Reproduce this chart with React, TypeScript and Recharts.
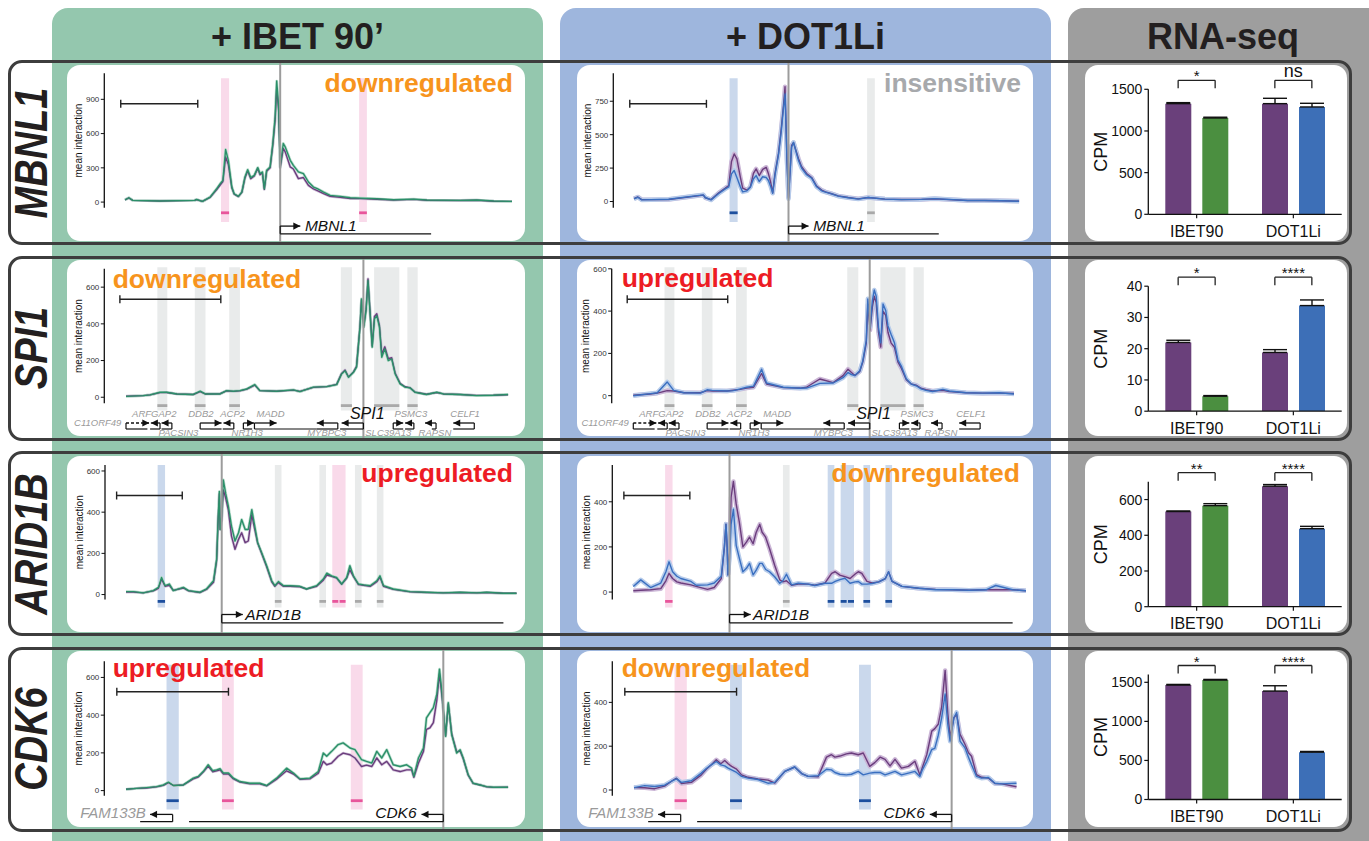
import React from 'react';
import {
  Bar, BarChart, Cell, ComposedChart, ErrorBar, Line,
  ReferenceArea, ReferenceDot, ReferenceLine, XAxis, YAxis,
} from 'recharts';

const FONT = '"Liberation Sans", Arial, Helvetica, sans-serif';

// Capture traces: position along the locus window (0..100) and mean interaction
const MBNL1_POS = [0, 1, 2, 9, 18, 18.5, 20, 22, 23.7, 24.6, 25.3, 26, 26.7, 27.6, 28.2, 29.3, 30.2, 31, 31.7, 32.5, 33.4, 34.3, 34.9, 35.5, 36, 36.6, 37.5, 38.2, 38.8, 39.2, 39.7, 40.1, 40.9, 41.4, 42.7, 43.5, 44.8, 46.1, 47.4, 48.7, 49.7, 51.3, 53, 55.6, 58.2, 60.8, 65.1, 69.4, 74.6, 78, 86.6, 90.9, 95.3, 100];
const MBNL1_IBET_CTRL = [20, 36, 15, 10, 15, 22, 6, 42, 110, 150, 180, 395, 330, 125, 70, 48, 85, 212, 275, 205, 228, 295, 240, 255, 112, 270, 300, 500, 720, 1000, 800, 300, 470, 440, 308, 290, 205, 215, 146, 115, 100, 75, 50, 42, 32, 30, 25, 18, 24, 16, 14, 16, 8, 6];
const MBNL1_IBET = [20, 38, 15, 10, 15, 23, 6, 44, 117, 161, 190, 460, 366, 132, 73, 50, 88, 220, 284, 214, 234, 302, 249, 264, 117, 278, 308, 513, 747, 1060, 835, 308, 513, 483, 366, 322, 264, 249, 176, 132, 117, 88, 59, 50, 38, 35, 29, 20, 26, 18, 15, 18, 9, 6];
const MBNL1_DOT_CTRL = [22, 34, 14, 15, 48, 28, 14, 65, 100, 120, 300, 356, 319, 182, 100, 85, 110, 210, 244, 194, 240, 256, 207, 140, 65, 210, 360, 540, 720, 859, 320, 30, 420, 440, 320, 260, 210, 180, 115, 85, 72, 58, 42, 30, 20, 30, 18, 15, 16, 20, 8, 8, 6, 3];
const MBNL1_DOT = [20, 32, 12, 17, 50, 30, 12, 60, 95, 110, 207, 232, 180, 110, 72, 80, 107, 170, 194, 150, 185, 180, 157, 110, 62, 200, 350, 520, 700, 804, 306, 20, 406, 443, 306, 250, 200, 175, 110, 80, 70, 57, 40, 28, 18, 30, 18, 14, 16, 22, 8, 8, 6, 2];

const SPI1_POS = [0, 4.5, 6.3, 8.9, 10.6, 13.3, 17.6, 19.4, 20.7, 24.6, 26.3, 28.1, 29.8, 31.6, 33.7, 35, 39.4, 43.8, 45.5, 49, 52.5, 55.1, 56.4, 57.3, 58.2, 59.5, 60.3, 61.2, 61.6, 62.2, 62.8, 63.3, 63.8, 64.4, 65, 65.6, 66.3, 66.9, 67.7, 68.6, 69.5, 70.4, 71.7, 73, 74.3, 75.6, 76.9, 78.6, 81.3, 83, 87.4, 91.7, 96.1, 100];
const SPI1_IBET_CTRL = [6, 9, 13, 25, 26, 18, 15, 31, 18, 19, 35, 32, 35, 44, 66, 36, 33, 39, 32, 54, 58, 70, 130, 148, 110, 138, 168, 385, 530, 390, 480, 645, 480, 280, 440, 455, 390, 236, 275, 210, 215, 132, 76, 57, 52, 28, 23, 16, 26, 18, 15, 10, 11, 14];
const SPI1_IBET = [5, 9, 13, 27, 27, 18, 15, 33, 18, 18, 36, 33, 36, 45, 69, 36, 33, 40, 31, 55, 58, 69, 127, 145, 109, 136, 164, 382, 536, 382, 473, 636, 473, 273, 427, 445, 382, 218, 264, 200, 209, 127, 73, 55, 51, 27, 22, 15, 27, 18, 15, 9, 11, 15];
const SPI1_DOT_CTRL = [2, 8, 12, 24, 22, 14, 14, 24, 22, 22, 26, 30, 36, 40, 105, 55, 38, 36, 40, 79, 62, 95, 125, 110, 95, 115, 160, 250, 430, 310, 420, 470, 440, 300, 230, 400, 380, 300, 250, 229, 160, 130, 75, 55, 50, 35, 28, 22, 25, 20, 14, 12, 12, 10];
const SPI1_DOT = [0, 10, 14, 65, 25, 14, 12, 28, 25, 22, 24, 32, 40, 45, 125, 60, 40, 35, 36, 58, 60, 85, 110, 100, 95, 118, 166, 261, 458, 324, 450, 500, 470, 324, 250, 434, 403, 330, 290, 250, 170, 140, 80, 55, 47, 32, 25, 20, 30, 22, 14, 12, 14, 8];

const ARID1B_POS = [0, 1.9, 4.4, 7, 8.3, 9.1, 10, 11.1, 12.1, 14.7, 16, 18.9, 20.6, 22.4, 23.2, 23.6, 23.9, 24.1, 24.5, 24.9, 25.5, 26.2, 27, 27.9, 28.8, 29.6, 30.5, 31.3, 32.2, 32.8, 33.7, 34.7, 36, 37.3, 38.1, 39, 40.3, 42, 44.5, 46.2, 48.8, 50.5, 51.4, 52.6, 53.9, 55.2, 56.5, 57.3, 58.2, 59.5, 60.8, 62.5, 64.2, 65, 65.9, 68.4, 72.7, 77, 81.2, 85.5, 89.8, 92.3, 96.6, 100];
const ARID1B_IBET_CTRL = [12, 12, 8, 18, 30, 75, 40, 45, 20, 32, 18, 10, 25, 60, 165, 370, 490, 316, 360, 508, 470, 410, 284, 220, 268, 300, 252, 260, 388, 330, 250, 200, 135, 62, 40, 58, 40, 40, 38, 27, 40, 70, 95, 88, 80, 50, 80, 120, 88, 48, 45, 40, 62, 85, 40, 25, 13, 10, 8, 10, 8, 10, 6, 6];
const ARID1B_IBET = [14, 14, 8, 19, 35, 83, 43, 51, 19, 35, 19, 11, 27, 67, 172, 380, 500, 316, 380, 557, 492, 428, 332, 260, 300, 364, 316, 316, 412, 348, 252, 204, 140, 67, 43, 63, 43, 43, 40, 27, 43, 75, 104, 91, 83, 51, 83, 140, 91, 51, 47, 43, 67, 91, 43, 27, 14, 11, 8, 11, 8, 11, 6, 6];
const ARID1B_DOT_CTRL = [6, 8, 10, 15, 50, 83, 60, 45, 40, 32, 25, 12, 20, 60, 200, 301, 200, 76, 180, 420, 490, 390, 310, 200, 221, 243, 214, 265, 300, 265, 243, 192, 119, 54, 45, 50, 30, 35, 35, 30, 40, 83, 90, 75, 68, 60, 80, 90, 83, 47, 40, 45, 60, 90, 47, 25, 17, 12, 10, 8, 10, 10, 10, 6];
const ARID1B_DOT = [25, 54, 20, 40, 90, 134, 90, 70, 60, 47, 30, 32, 40, 70, 200, 301, 200, 76, 150, 300, 367, 207, 150, 90, 105, 127, 76, 97, 127, 127, 100, 90, 68, 39, 50, 79, 32, 39, 35, 29, 39, 39, 47, 55, 61, 39, 45, 47, 35, 35, 38, 45, 60, 90, 47, 25, 17, 10, 10, 8, 10, 29, 10, 6];

const CDK6_POS = [0, 2.8, 5.4, 8, 9.8, 11.1, 12.4, 15, 17.6, 18.9, 20.2, 21.5, 22.7, 23.7, 24.6, 25.5, 26.8, 28.1, 29.8, 32.4, 35, 36.8, 39.4, 42, 43.8, 45.5, 48.1, 50.3, 51.6, 52.5, 53.8, 55.5, 56.8, 58.6, 59.9, 61.6, 62.9, 64.3, 65.6, 66.9, 68.2, 69.9, 71.7, 73.4, 74.7, 75.3, 76.5, 77.8, 78.6, 79.5, 80.4, 81.3, 82, 82.6, 83.6, 84.3, 85.2, 86.5, 87.4, 88.2, 89.5, 90.8, 92.6, 94.3, 96.1, 100];
const CDK6_IBET_CTRL = [7, 12, 14, 20, 28, 42, 27, 30, 62, 72, 98, 130, 100, 105, 110, 88, 88, 62, 45, 36, 36, 25, 60, 105, 88, 60, 62, 92, 155, 137, 146, 182, 199, 190, 173, 128, 135, 128, 173, 137, 155, 110, 101, 110, 110, 70, 146, 208, 324, 333, 360, 480, 620, 510, 290, 460, 300, 205, 210, 170, 82, 38, 30, 20, 17, 18];
const CDK6_IBET = [7, 12, 16, 21, 30, 45, 27, 30, 66, 75, 101, 137, 105, 110, 116, 93, 93, 66, 48, 39, 39, 27, 66, 119, 93, 62, 66, 101, 199, 182, 208, 244, 253, 226, 217, 164, 155, 146, 208, 173, 217, 137, 128, 137, 119, 75, 173, 226, 386, 413, 440, 511, 644, 529, 288, 466, 297, 199, 217, 173, 84, 39, 30, 21, 18, 18];
const CDK6_DOT_CTRL = [11, 10, 6, 18, 40, 54, 30, 35, 69, 95, 115, 138, 120, 135, 120, 108, 95, 69, 58, 50, 45, 32, 85, 105, 75, 62, 60, 150, 161, 150, 155, 165, 169, 161, 169, 108, 125, 150, 140, 110, 140, 100, 108, 131, 69, 100, 161, 269, 280, 300, 380, 546, 350, 240, 330, 346, 254, 208, 170, 154, 70, 58, 55, 30, 28, 15];
const CDK6_DOT = [11, 20, 16, 22, 40, 51, 35, 42, 77, 98, 115, 130, 115, 110, 100, 92, 80, 62, 54, 48, 31, 35, 85, 105, 75, 62, 65, 95, 92, 80, 72, 69, 72, 85, 69, 77, 80, 80, 69, 77, 85, 69, 77, 85, 62, 90, 131, 185, 190, 250, 330, 438, 300, 223, 330, 354, 223, 192, 150, 115, 62, 54, 57, 31, 28, 31];

// highlighted fragments: extent and kind in the IBET / DOT1Li panel
const MBNL1_BANDS = [
  { x1: 24.8, x2: 26.9, c: ['pink', 'blue'], n: 1 },
  { x1: 60.5, x2: 62.5, c: ['pink', 'gray'], n: 1 },
];
const SPI1_BANDS = [
  { x1: 8.2, x2: 10.8, c: ['gray', 'gray'], n: 1 },
  { x1: 18, x2: 20.8, c: ['gray', 'gray'], n: 1 },
  { x1: 27, x2: 29.8, c: ['gray', 'gray'], n: 1 },
  { x1: 56.2, x2: 59.1, c: ['gray', 'gray'], n: 1 },
  { x1: 64.9, x2: 71.5, c: ['gray', 'gray'], n: 1 },
  { x1: 73.6, x2: 76.3, c: ['gray', 'gray'], n: 1 },
];
const ARID1B_BANDS = [
  { x1: 8.1, x2: 10, c: ['blue', 'pink'], n: 1 },
  { x1: 38.1, x2: 39.8, c: ['gray', 'gray'], n: 1 },
  { x1: 49.5, x2: 51.2, c: ['gray', 'blue'], n: 1 },
  { x1: 52.8, x2: 56.2, c: ['pink', 'blue'], n: 2 },
  { x1: 58.6, x2: 60.3, c: ['gray', 'blue'], n: 1 },
  { x1: 64.2, x2: 65.9, c: ['gray', 'blue'], n: 1 },
];
const CDK6_BANDS = [
  { x1: 10.6, x2: 13.8, c: ['blue', 'pink'], n: 1 },
  { x1: 25.1, x2: 28.2, c: ['pink', 'blue'], n: 1 },
  { x1: 58.8, x2: 61.9, c: ['pink', 'blue'], n: 1 },
];

// gene models under the traces
const MBNL1_GENES = [{ name: 'MBNL1', tss: 40.1, tip: 45.3, body: [40.1, 79.1], label: 46.5, anchor: 'start', ty: -22.7, main: true }];
const SPI1_GENES = [
  { name: 'C11ORF49', tss: 0, tip: 6.1, body: [0, 5.6], label: -1.2, anchor: 'end', ty: -22.3, dashed: true },
  { name: 'ARFGAP2', tss: 8.9, tip: 6.5, body: [6.3, 8.9], label: 7.4, anchor: 'middle', ty: -13.3 },
  { name: 'PACSIN3', tss: 12, tip: 9.3, body: [9.3, 12], label: 13.7, anchor: 'middle', ty: -32.5 },
  { name: 'DDB2', tss: 19.4, tip: 25, body: [19.4, 25], label: 19.6, anchor: 'middle', ty: -13.3 },
  { name: 'ACP2', tss: 28.2, tip: 25.5, body: [25.3, 28.2], label: 27.9, anchor: 'middle', ty: -13.3 },
  { name: 'NR1H3', tss: 30.7, tip: 33.5, body: [30.7, 33], label: 31.7, anchor: 'middle', ty: -32.5 },
  { name: 'MADD', tss: 33.6, tip: 39.4, body: [33.6, 49.9], label: 37.8, anchor: 'middle', ty: -13.3 },
  { name: 'MYBPC3', tss: 55.4, tip: 49.9, body: [49.9, 55.4], label: 52.5, anchor: 'middle', ty: -32.5 },
  { name: 'SPI1', tss: 62.1, tip: 56.4, body: [56, 62.1], label: 63.1, anchor: 'middle', ty: -15.7, main: true },
  { name: 'SLC39A13', tss: 69.9, tip: 72.5, body: [69.9, 72.5], label: 68.6, anchor: 'middle', ty: -32.5 },
  { name: 'PSMC3', tss: 75.3, tip: 73, body: [73, 75.3], label: 74.5, anchor: 'middle', ty: -13.3 },
  { name: 'RAPSN', tss: 81.1, tip: 78.2, body: [80, 81.1], label: 80.8, anchor: 'middle', ty: -32.5 },
  { name: 'CELF1', tss: 91.1, tip: 85.6, body: [85.6, 91.1], label: 88.7, anchor: 'middle', ty: -13.3 },
];
const ARID1B_GENES = [{ name: 'ARID1B', tss: 24.5, tip: 29.9, body: [24.5, 96.6], label: 30.5, anchor: 'start', ty: -20, main: true }];
const CDK6_GENES = [
  { name: 'FAM133B', tss: 12.2, tip: 6.3, body: [3.7, 12.2], label: 5.2, anchor: 'end', ty: -22.7, big: true },
  { name: 'CDK6', tss: 83, tip: 77.3, body: [16.5, 83], label: 76, anchor: 'end', ty: -22.7, main: true },
];

// RNA-seq: CPM for [control, IBET90, control, DOT1Li] and upper error
const RNA_GROUPS = ['IBET90', 'DOT1Li'];
const MBNL1_CPM = [1328, 1156, 1328, 1288];
const MBNL1_SEM = [12, 9, 64, 44];
const SPI1_CPM = [22.0, 4.8, 18.8, 33.8];
const SPI1_SEM = [0.7, 0.2, 0.9, 1.8];
const ARID1B_CPM = [533, 566, 675, 437];
const ARID1B_SEM = [3, 11, 9, 13];
const CDK6_CPM = [1465, 1529, 1388, 606];
const CDK6_SEM = [8, 8, 68, 9];
const MBNL1_SIG = ['*', 'ns'];
const SPI1_SIG = ['*', '****'];
const ARID1B_SIG = ['**', '****'];
const CDK6_SIG = ['*', '****'];

const PURPLE = '#6b3d7d';
const GREEN_LINE = '#2b8f69';
const BLUE_LINE = '#3a6fc0';
const BAR_PURPLE = '#6a407b';
const TRT_FILL = ['#4b8f40', '#3d6fb7'];
const BAND_FILL: Record<string, string> = { pink: '#f9daea', blue: '#cad8ec', gray: '#e9ebeb' };
const DASH_FILL: Record<string, string> = { pink: '#e8559b', blue: '#1d4f9e', gray: '#a9a9a9' };
const ORANGE = '#f7941d';
const RED = '#ed1c24';
const GRAYTXT = '#a7a9ac';

const ROW_TOP = [60, 255.5, 451, 646.5];
const ROW_H = 185;
const CH_OFF = 3;
const CH_H = ROW_H - 2 * CH_OFF;
const COL_LEFT = [52, 560];
const COL_W = 491;
const Y_W = 28;
const TRACE_TOP = [13.3, 12.8, 14, 14.2];
const TRACE_H = 134.5;
const BAR_TOP = [29.3, 30.2, 30.7, 27.5];
const BAR_H = 125;
const BAR_LEFT = 1068;
const BAR_CW = 284;
const BAR_AXIS_X = 1148.3;
const BAR_PW = 193.4;
const BAR_YW = 48;
const BAR_XH = 30;
const OV_PAD = 14;

const ROWS = [
  {
    gene: 'MBNL1', pos: MBNL1_POS, series: [[MBNL1_IBET_CTRL, MBNL1_IBET], [MBNL1_DOT_CTRL, MBNL1_DOT]],
    tss: 40.1, bands: MBNL1_BANDS, genes: MBNL1_GENES, scaleBar: [-1.1, 18.8],
    geo: [[104.3, 125, 512], [613.3, 634, 1019.3]],
    yDom: [[-50, 1128], [-47, 959]], yTicks: [[0, 300, 600, 900], [0, 250, 500, 750]],
    bandTop: 129.5, bandBot: -14.3, dashY: -5, arrowY: -18.3, bodyY: -26,
  },
  {
    gene: 'SPI1', pos: SPI1_POS, series: [[SPI1_IBET_CTRL, SPI1_IBET], [SPI1_DOT_CTRL, SPI1_DOT]],
    tss: 62.1, bands: SPI1_BANDS, genes: SPI1_GENES, scaleBar: [-1.6, 24.8],
    geo: [[104.3, 126, 508.3], [611.7, 633.3, 1014]],
    yDom: [[-33, 700], [-36, 600]], yTicks: [[0, 200, 400, 600], [0, 200, 400, 600]],
    bandTop: 136, bandBot: -7.3, dashY: -2.3, arrowY: -19.7, bodyY: -25.7,
  },
  {
    gene: 'ARID1B', pos: ARID1B_POS, series: [[ARID1B_IBET_CTRL, ARID1B_IBET], [ARID1B_DOT_CTRL, ARID1B_DOT]],
    tss: 24.5, bands: ARID1B_BANDS, genes: ARID1B_GENES, scaleBar: [-2.4, 14.4],
    geo: [[105, 126, 516.7], [612.3, 633.3, 1026]],
    yDom: [[-24, 629], [-33, 563]], yTicks: [[0, 200, 400, 600], [0, 200, 400]],
    bandTop: 134.5, bandBot: -8, dashY: -1.9, arrowY: -15, bodyY: -23.3,
  },
  {
    gene: 'CDK6', pos: CDK6_POS, series: [[CDK6_IBET_CTRL, CDK6_IBET], [CDK6_DOT_CTRL, CDK6_DOT]],
    tss: 83, bands: CDK6_BANDS, genes: CDK6_GENES, scaleBar: [-2.4, 26.8],
    geo: [[104.3, 126, 508.3], [612.3, 634, 1016.7]],
    yDom: [[-27, 686], [-26, 588]], yTicks: [[0, 200, 400, 600], [0, 200, 400]],
    bandTop: 131, bandBot: -13.7, dashY: -5, arrowY: -18.7, bodyY: -26,
  },
];

const RNA = [
  { cpm: MBNL1_CPM, sem: MBNL1_SEM, sig: MBNL1_SIG, dom: [0, 1500], ticks: [0, 500, 1000, 1500] },
  { cpm: SPI1_CPM, sem: SPI1_SEM, sig: SPI1_SIG, dom: [0, 40], ticks: [0, 10, 20, 30, 40] },
  { cpm: ARID1B_CPM, sem: ARID1B_SEM, sig: ARID1B_SIG, dom: [0, 700], ticks: [0, 200, 400, 600] },
  { cpm: CDK6_CPM, sem: CDK6_SEM, sig: CDK6_SIG, dom: [0, 1600], ticks: [0, 500, 1000, 1500] },
];

const REG = [
  [{ t: 'downregulated', c: ORANGE, x: 513, right: true, b: 92.3 }, { t: 'insensitive', c: GRAYTXT, x: 1021, right: true, b: 92.3 }],
  [{ t: 'downregulated', c: ORANGE, x: 112.7, right: false, b: 288.3 }, { t: 'upregulated', c: RED, x: 621.7, right: false, b: 287.3 }],
  [{ t: 'upregulated', c: RED, x: 513, right: true, b: 482.3 }, { t: 'downregulated', c: ORANGE, x: 1020, right: true, b: 482.3 }],
  [{ t: 'upregulated', c: RED, x: 112.7, right: false, b: 677.3 }, { t: 'downregulated', c: ORANGE, x: 621.7, right: false, b: 677.3 }],
];

const arrowShape = (dir: number) => (p: any) => (
  <polygon
    points={`${p.cx},${p.cy} ${p.cx - dir * 7},${p.cy - 3.6} ${p.cx - dir * 7},${p.cy + 3.6}`}
    fill="#111"
  />
);

const textShape = (s: string, anchor: string, size: number, color: string, italic = true) => (p: any) => (
  <text x={p.cx} y={p.cy} textAnchor={anchor} fontSize={size} fill={color}
    fontStyle={italic ? 'italic' : 'normal'} fontFamily={FONT}>{s}</text>
);

function geneMarks(genes: any[], arrowY: number, bodyY: number, key: string) {
  const out: React.ReactNode[] = [];
  genes.forEach((g, i) => {
    const dir = g.tip > g.tss ? 1 : -1;
    const k = `${key}-${i}`;
    const size = g.main ? (g.name === 'SPI1' ? 16 : 15.5) : g.big ? 15 : 9.5;
    const color = g.main ? '#111' : '#9a9a9a';
    out.push(<ReferenceLine key={k + 'v'} yAxisId="px" ifOverflow="visible" stroke="#111" strokeWidth={1.2}
      segment={[{ x: g.tss, y: bodyY }, { x: g.tss, y: arrowY }]} />);
    out.push(<ReferenceLine key={k + 'h'} yAxisId="px" ifOverflow="visible" stroke="#111" strokeWidth={1.3}
      strokeDasharray={g.dashed ? '3 2' : undefined}
      segment={[{ x: g.tss, y: arrowY }, { x: g.tip, y: arrowY }]} />);
    out.push(<ReferenceLine key={k + 'b'} yAxisId="px" ifOverflow="visible" stroke="#111" strokeWidth={1.2}
      segment={[{ x: g.body[0], y: bodyY }, { x: g.body[1], y: bodyY }]} />);
    out.push(<ReferenceDot key={k + 'a'} x={g.tip} y={arrowY} yAxisId="px" ifOverflow="visible" shape={arrowShape(dir)} />);
    out.push(<ReferenceDot key={k + 't'} x={g.label} y={g.ty} yAxisId="px" ifOverflow="visible"
      shape={textShape(g.name, g.anchor, size, color)} />);
  });
  return out;
}

function TracePanel({ row, col }: { row: number; col: number }) {
  const r = ROWS[row];
  const [axisX, startX, endX] = r.geo[col];
  const colLeft = COL_LEFT[col];
  const plotTop = TRACE_TOP[row] - CH_OFF;
  const xMin = -((startX - axisX) / (endX - startX)) * 100;
  const [ctrl, trt] = r.series[col];
  const data = r.pos.map((x, i) => ({ x, ctrl: ctrl[i], trt: trt[i] }));
  const trtColor = col === 0 ? GREEN_LINE : BLUE_LINE;
  const ribbonW = col === 0 ? 2.8 : 4.5;
  const key = `${r.gene}-${col}`;
  const sbY = 104;
  return (
    <div style={{ position: 'absolute', left: colLeft, top: ROW_TOP[row] + CH_OFF }}>
      <ComposedChart width={COL_W} height={CH_H} data={data}
        margin={{ top: plotTop, bottom: CH_H - plotTop - TRACE_H, left: axisX - colLeft - Y_W, right: colLeft + COL_W - endX }}>
        <XAxis dataKey="x" type="number" domain={[xMin, 100]} hide allowDataOverflow />
        <YAxis type="number" domain={r.yDom[col]} ticks={r.yTicks[col]} allowDataOverflow width={Y_W} interval={0}
          tickSize={3.5} tickMargin={1.5} tick={{ fontSize: 8, fill: '#333', fontFamily: FONT }}
          axisLine={{ stroke: '#111', strokeWidth: 1.3 }} tickLine={{ stroke: '#111', strokeWidth: 1 }}
          label={{ value: 'mean interaction', angle: -90, position: 'insideLeft', offset: 2, fontSize: 10, fill: '#111', fontFamily: FONT, style: { textAnchor: 'middle' } }} />
        <YAxis yAxisId="px" type="number" domain={[0, TRACE_H]} hide allowDataOverflow />
        {r.bands.map((b, i) => (
          <ReferenceArea key={`${key}-band-${i}`} x1={b.x1} x2={b.x2} y1={r.bandBot} y2={r.bandTop} yAxisId="px"
            ifOverflow="visible" fill={BAND_FILL[b.c[col]]} fillOpacity={1} stroke="none" />
        ))}
        {r.bands.flatMap((b, i) => {
          const w = b.x2 - b.x1;
          const segs = b.n === 2 ? [[b.x1, b.x1 + w * 0.45], [b.x1 + w * 0.55, b.x2]] : [[b.x1, b.x2]];
          return segs.map((s, j) => (
            <ReferenceArea key={`${key}-dash-${i}-${j}`} x1={s[0]} x2={s[1]} y1={r.dashY - 1.4} y2={r.dashY + 1.4}
              yAxisId="px" ifOverflow="visible" fill={DASH_FILL[b.c[col]]} fillOpacity={1} stroke="none" />
          ));
        })}
        <Line dataKey="ctrl" stroke={col === 0 ? '#d2c4da' : '#cbb6d6'} strokeWidth={ribbonW} dot={false} isAnimationActive={false} strokeLinejoin="round" />
        <Line dataKey="trt" stroke={col === 0 ? '#b7dccb' : '#b6cbea'} strokeWidth={ribbonW} dot={false} isAnimationActive={false} strokeLinejoin="round" />
        <Line dataKey="ctrl" stroke={PURPLE} strokeWidth={1.4} dot={false} isAnimationActive={false} strokeLinejoin="round" />
        <Line dataKey="trt" stroke={trtColor} strokeWidth={1.4} dot={false} isAnimationActive={false} strokeLinejoin="round" />
        <ReferenceLine yAxisId="px" ifOverflow="visible" stroke="#9c9c9c" strokeWidth={2}
          segment={[{ x: r.tss, y: -200 }, { x: r.tss, y: 400 }]} />
        <ReferenceLine yAxisId="px" ifOverflow="visible" stroke="#222" strokeWidth={1.6}
          segment={[{ x: r.scaleBar[0], y: sbY }, { x: r.scaleBar[1], y: sbY }]} />
        <ReferenceLine yAxisId="px" ifOverflow="visible" stroke="#222" strokeWidth={1.4}
          segment={[{ x: r.scaleBar[0], y: sbY - 4 }, { x: r.scaleBar[0], y: sbY + 4 }]} />
        <ReferenceLine yAxisId="px" ifOverflow="visible" stroke="#222" strokeWidth={1.4}
          segment={[{ x: r.scaleBar[1], y: sbY - 4 }, { x: r.scaleBar[1], y: sbY + 4 }]} />
        {geneMarks(r.genes, r.arrowY, r.bodyY, key)}
      </ComposedChart>
    </div>
  );
}

function RnaPanel({ row }: { row: number }) {
  const g = RNA[row];
  const data = RNA_GROUPS.map((name, i) => ({
    name, ctrl: g.cpm[2 * i], trt: g.cpm[2 * i + 1], ctrlErr: [0, g.sem[2 * i]], trtErr: [0, g.sem[2 * i + 1]],
  }));
  const plotTop = BAR_TOP[row] - CH_OFF;
  const right = BAR_LEFT + BAR_CW - BAR_AXIS_X - BAR_PW;
  const bottom = CH_H - plotTop - BAR_H;
  // significance brackets, drawn in a transparent overlay that shares the plot box (pixel units)
  const band = BAR_PW / RNA_GROUPS.length;
  const centres = RNA_GROUPS.map((_, i) => ({ x: (i + 0.5) * band }));
  const brackets: React.ReactNode[] = [];
  centres.forEach(({ x: c }, i) => {
    const a = c - 18.5;
    const b = c + 18.5;
    const top = BAR_H + 9;
    const leg = BAR_H + 1;
    const k = `br-${row}-${i}`;
    brackets.push(<ReferenceLine key={k + 'h'} ifOverflow="visible" stroke="#222" strokeWidth={1.3}
      segment={[{ x: a, y: top }, { x: b, y: top }]} />);
    brackets.push(<ReferenceLine key={k + 'l'} ifOverflow="visible" stroke="#222" strokeWidth={1.3}
      segment={[{ x: a, y: top }, { x: a, y: leg }]} />);
    brackets.push(<ReferenceLine key={k + 'r'} ifOverflow="visible" stroke="#222" strokeWidth={1.3}
      segment={[{ x: b, y: top }, { x: b, y: leg }]} />);
    const ns = g.sig[i] === 'ns';
    brackets.push(<ReferenceDot key={k + 't'} x={c} y={ns ? BAR_H + 12.6 : BAR_H + 8}
      ifOverflow="visible" shape={textShape(g.sig[i], 'middle', ns ? 18 : 15, '#111', false)} />);
  });
  return (
    <>
      <div style={{ position: 'absolute', left: BAR_LEFT, top: ROW_TOP[row] + CH_OFF }}>
        <BarChart width={BAR_CW} height={CH_H} data={data} barSize={26} barGap={11}
          margin={{ top: plotTop, bottom: bottom - BAR_XH, left: BAR_AXIS_X - BAR_LEFT - BAR_YW, right }}>
          <XAxis dataKey="name" interval={0} height={BAR_XH} tickSize={4} tickMargin={7}
            tick={{ fontSize: 16, fill: '#111', fontFamily: FONT }}
            axisLine={{ stroke: '#111', strokeWidth: 1.3 }} tickLine={{ stroke: '#111', strokeWidth: 1.2 }} />
          <YAxis type="number" domain={g.dom} ticks={g.ticks} interval={0} width={BAR_YW} allowDataOverflow
            tickSize={4} tickMargin={2} tick={{ fontSize: 14, fill: '#111', fontFamily: FONT }}
            axisLine={{ stroke: '#111', strokeWidth: 1.3 }} tickLine={{ stroke: '#111', strokeWidth: 1.2 }}
            label={{ value: 'CPM', angle: -90, position: 'insideLeft', offset: 0, fontSize: 18, fill: '#111', fontFamily: FONT, style: { textAnchor: 'middle' } }} />
          <Bar dataKey="ctrl" fill={BAR_PURPLE} isAnimationActive={false}>
            <ErrorBar dataKey="ctrlErr" width={12} stroke="#111" strokeWidth={1.4} direction="y" isAnimationActive={false} />
          </Bar>
          <Bar dataKey="trt" isAnimationActive={false}>
            {data.map((d, i) => <Cell key={d.name} fill={TRT_FILL[i]} />)}
            <ErrorBar dataKey="trtErr" width={12} stroke="#111" strokeWidth={1.4} direction="y" isAnimationActive={false} />
          </Bar>
        </BarChart>
      </div>
      <div style={{ position: 'absolute', left: BAR_LEFT, top: ROW_TOP[row] + CH_OFF - OV_PAD, pointerEvents: 'none' }}>
        <ComposedChart width={BAR_CW} height={CH_H + OV_PAD} data={centres}
          margin={{ top: plotTop + OV_PAD, bottom, left: BAR_AXIS_X - BAR_LEFT, right }}>
          <XAxis dataKey="x" type="number" domain={[0, BAR_PW]} hide allowDataOverflow />
          <YAxis type="number" domain={[0, BAR_H]} hide allowDataOverflow />
          {brackets}
        </ComposedChart>
      </div>
    </>
  );
}

const abs = (s: React.CSSProperties): React.CSSProperties => ({ position: 'absolute', ...s });

export default function App() {
  const headerStyle: React.CSSProperties = {
    fontSize: 36, fontWeight: 'bold', lineHeight: '36px', color: '#231f20', textAlign: 'center', whiteSpace: 'nowrap',
  };
  return (
    <div style={abs({ left: 0, top: 0, width: 1369, height: 841, overflow: 'hidden', background: '#fff', fontFamily: FONT })}>
      <div style={abs({ left: 52, top: 8, width: 491, height: 860, background: '#94c7ae', borderRadius: 16 })} />
      <div style={abs({ left: 560, top: 8, width: 491, height: 860, background: '#9eb6dd', borderRadius: 16 })} />
      <div style={abs({ left: 1068, top: 8, width: 320, height: 860, background: '#9e9e9e', borderRadius: 16 })} />

      <div style={abs({ ...headerStyle, left: 52, top: 18.5, width: 491 })}>+ IBET 90’</div>
      <div style={abs({ ...headerStyle, left: 560, top: 18.5, width: 491 })}>+ DOT1Li</div>
      <div style={abs({ ...headerStyle, left: 1073, top: 18.5, width: 300 })}>RNA-seq</div>

      {ROWS.map((r, i) => (
        <React.Fragment key={r.gene}>
          <div style={abs({ left: 8, top: ROW_TOP[i], width: 1344, height: ROW_H, border: '3px solid #3d3d3d', borderRadius: 14, boxSizing: 'border-box' })} />
          <div style={abs({ left: 67, top: ROW_TOP[i] + 4.5, width: 458, height: ROW_H - 9, background: '#fff', borderRadius: 13 })} />
          <div style={abs({ left: 577, top: ROW_TOP[i] + 4.5, width: 456, height: ROW_H - 9, background: '#fff', borderRadius: 13 })} />
          <div style={abs({ left: 1085, top: ROW_TOP[i] + 4.5, width: 262, height: ROW_H - 9, background: '#fff', borderRadius: 13 })} />
          <div style={abs({
            left: 31, top: ROW_TOP[i] + ROW_H / 2, fontSize: 38, fontWeight: 'bold', fontStyle: 'italic', color: '#231f20',
            whiteSpace: 'nowrap', lineHeight: '38px', transform: 'translate(-50%, -50%) rotate(-90deg) scale(1, 1.22)',
          })}>{r.gene}</div>
          <TracePanel row={i} col={0} />
          <TracePanel row={i} col={1} />
          <RnaPanel row={i} />
          {REG[i].map((t, j) => (
            <div key={j} style={abs({
              left: t.right ? t.x - 400 : t.x, width: 400, top: t.b - 22.2, fontSize: 26.5, lineHeight: '26px',
              fontWeight: 'bold', color: t.c, textAlign: t.right ? 'right' : 'left', whiteSpace: 'nowrap',
            })}>{t.t}</div>
          ))}
        </React.Fragment>
      ))}
    </div>
  );
}
